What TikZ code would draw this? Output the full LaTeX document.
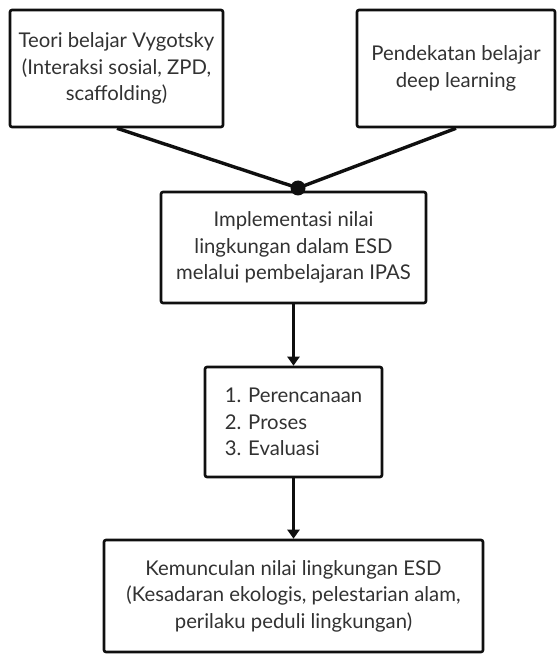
\documentclass[tikz,border=0pt]{standalone}
\usepackage{fontspec}
\setmainfont{Lato}
\usepackage{tikz}
\usetikzlibrary{positioning,arrows.meta}
\definecolor{fcLine}{RGB}{15,15,15}
\definecolor{fcText}{RGB}{50,50,50}

\begin{document}
\begin{tikzpicture}[x=1pt, y=-1pt,
    box/.style={draw=fcLine, line width=2.6pt, rounded corners=2pt, fill=white,
      text=fcText, align=center, inner sep=0pt,
      font=\fontsize{20.3}{26.5}\selectfont},
    link/.style={fcLine, line width=3.4pt},
    flow/.style={link, -{Triangle[length=9pt, width=12pt]}}]
  \useasboundingbox (0,0) rectangle (557,660);

  % Input theories
  \node[box, minimum width=213pt, minimum height=117pt] (vygotsky) at (116.5,68.5)
    {Teori belajar Vygotsky\\(Interaksi sosial, ZPD,\\scaffolding)};
  \node[box, minimum width=198pt, minimum height=117pt] (deep) at (456,68.5)
    {Pendekatan belajar\\deep learning};

  % Main process
  \node[box, minimum width=265pt, minimum height=111pt] (impl) at (293.5,247.5)
    {Implementasi nilai\\lingkungan dalam ESD\\melalui pembelajaran IPAS};
  \node[box, minimum width=177pt, minimum height=110pt, align=left] (tahap) at (293.5,422)
    {1. Perencanaan\\2. Proses\\3. Evaluasi};

  % Outcome
  \node[box, minimum width=379pt, minimum height=112pt] (hasil) at (293.5,596)
    {Kemunculan nilai lingkungan ESD\\(Kesadaran ekologis, pelestarian alam,\\perilaku peduli lingkungan)};

  % Junction
  \node[circle, fill=fcLine, inner sep=0pt, minimum size=15pt] (join) at (298,188) {};
  \draw[link] ([xshift=0.5pt]vygotsky.south) -- (join.center);
  \draw[link] (deep.south) -- (join.center);

  % Arrows down
  \draw[flow] (impl.south) -- (tahap.north);
  \draw[flow] (tahap.south) -- (hasil.north);
\end{tikzpicture}
\end{document}
